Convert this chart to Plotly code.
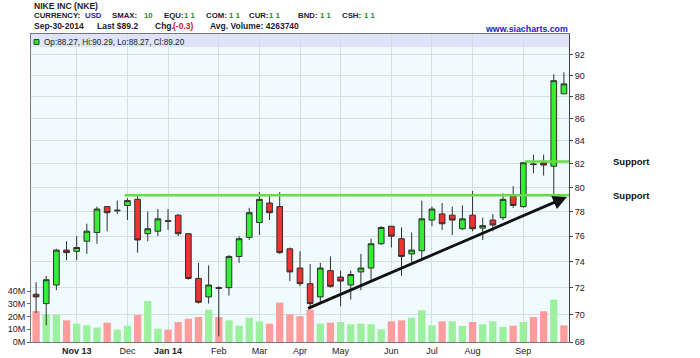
import math
import pandas as pd
import plotly.graph_objects as go

# ---------------- data ----------------
weeks = pd.date_range("2013-09-30", periods=53, freq="7D")

open_ = [71.5, 70.8, 72.2, 74.9, 74.8, 75.6, 76.3, 78.4, 78.05, 78.5,
         79.0, 76.2, 76.4, 77.25, 77.7, 76.2, 72.7, 71.3, 72.0, 72.0,
         74.4, 75.9, 77.1, 78.7, 78.4, 75.0, 73.5, 72.3, 71.3, 73.3,
         72.8, 72.2, 73.2, 73.5, 75.4, 76.8, 75.8, 74.6, 74.85, 77.3,
         77.8, 77.7, 76.6, 77.7, 76.65, 77.3, 77.5, 79.3, 78.4, 82.0,
         82.1, 81.8, 88.27]
high = [72.4, 72.9, 75.0, 75.6, 76.0, 77.0, 78.4, 78.4, 78.9, 79.1,
        79.4, 78.0, 78.2, 78.2, 77.8, 76.2, 73.9, 73.7, 72.1, 74.5,
        76.0, 78.3, 79.6, 79.3, 79.6, 75.1, 74.8, 73.8, 73.9, 74.4,
        73.3, 73.3, 74.6, 75.8, 76.8, 76.8, 76.7, 76.3, 78.9, 78.4,
        78.7, 78.4, 78.5, 79.7, 77.5, 77.8, 79.5, 80.1, 82.1, 82.8,
        82.8, 90.1, 90.29]
low = [70.1, 69.2, 71.8, 74.1, 74.1, 74.6, 75.4, 76.4, 77.8, 77.3,
       74.7, 75.6, 76.0, 76.5, 76.0, 72.6, 70.8, 70.8, 68.4, 71.4,
       73.9, 75.7, 76.1, 77.3, 74.6, 72.5, 72.1, 70.5, 70.9, 72.0,
       70.6, 71.1, 71.8, 72.6, 75.3, 75.1, 72.9, 73.9, 74.2, 76.8,
       76.5, 76.1, 76.5, 76.4, 75.7, 76.4, 77.3, 78.3, 78.3, 81.2,
       81.0, 79.4, 88.27]
close = [71.3, 72.6, 74.9, 74.7, 75.1, 76.4, 78.2, 77.9, 78.1, 78.9,
         75.7, 76.6, 77.4, 77.2, 76.2, 72.7, 70.9, 72.2, 71.95, 74.4,
         75.8, 77.9, 79.0, 77.9, 74.7, 73.2, 72.3, 70.8, 73.5, 72.1,
         72.5, 73.0, 73.5, 75.4, 76.7, 76.0, 74.4, 74.9, 77.4, 78.2,
         77.0, 77.3, 77.4, 76.6, 76.85, 76.9, 79.0, 78.5, 82.1, 81.95,
         81.9, 89.5, 89.20]
volume_m = [24.3, 21.7, 21.2, 17.0, 14.4, 13.1, 11.3, 15.2, 9.7, 12.8,
            21.2, 32.2, 10.5, 9.7, 15.7, 18.3, 19.6, 25.4, 19.6, 17.0,
            12.8, 19.1, 16.2, 14.4, 30.9, 21.7, 20.2, 25.4, 14.4, 15.2,
            15.7, 13.9, 14.4, 13.9, 10.0, 16.2, 17.0, 19.1, 24.9, 13.1,
            16.2, 16.2, 12.6, 15.7, 13.9, 16.2, 11.8, 12.8, 15.7, 19.6,
            24.1, 33.2, 13.1]

month_tick_weeks = ["2013-10-28", "2013-12-02", "2013-12-30", "2014-02-03",
                    "2014-03-03", "2014-03-31", "2014-04-28", "2014-06-02",
                    "2014-06-30", "2014-07-28", "2014-09-01"]
month_tick_labels = ["<b>Nov 13</b>", "Dec", "<b>Jan 14</b>", "Feb", "Mar",
                     "Apr", "May", "Jun", "Jul", "Aug", "Sep"]
price_ticks = [68, 70, 72, 74, 76, 78, 80, 82, 84, 86, 88, 90, 92]
volume_ticks_m = [0, 10, 20, 30, 40]

support_levels = [79.35, 82.2]
support_starts = ["2013-11-30", "2014-09-02"]
support_end = "2014-10-03"
trend_start = ("2014-04-04 12:00", 70.4)
trend_end = ("2014-10-01 02:00", 79.2)

# ---------------- layout helpers ----------------
W, H = 700, 358
L, R, T, B = 31, 569, 34, 342


def px(x):
    return (x - L) / (R - L)


def py(y):
    return (B - y) / (B - T)


GREEN_BODY = "#33ee33"
RED_BODY = "#ee3333"
GREEN_VOL = "#9df09d"
RED_VOL = "#ff9c9c"
GRID = "#d5dee3"
TXT = "#1b1b2b"
FONT = "Liberation Sans, Arial, sans-serif"

vol_colors = []
for i, c in enumerate(close):
    prev = close[i - 1] if i > 0 else open_[0]
    vol_colors.append(GREEN_VOL if c >= prev else RED_VOL)

fig = go.Figure()
fig.add_trace(go.Bar(
    x=weeks, y=[v * 1e6 for v in volume_m], yaxis="y",
    marker=dict(color=vol_colors, line=dict(width=0)), hoverinfo="skip"))

fig.add_trace(go.Candlestick(
    x=weeks, open=open_, high=high, low=low, close=close, yaxis="y2",
    whiskerwidth=0,
    increasing=dict(fillcolor=GREEN_BODY, line=dict(color="#2d332d", width=1)),
    decreasing=dict(fillcolor=RED_BODY, line=dict(color="#332d2d", width=1))))

for lvl, start in zip(support_levels, support_starts):
    fig.add_trace(go.Scatter(
        x=[start, support_end], y=[lvl, lvl], yaxis="y2", mode="lines",
        line=dict(color="#66dd44", width=2.5), hoverinfo="skip"))

half_week = pd.Timedelta(days=3.5)
fig.update_layout(
    width=W, height=H,
    margin=dict(l=L, r=W - R, t=T, b=H - B, pad=0, autoexpand=False),
    paper_bgcolor="white", plot_bgcolor="#f0fbff",
    showlegend=False, bargap=0.28, boxgap=0.2,
    font=dict(family=FONT, size=9, color=TXT),
    xaxis=dict(
        type="date", range=[weeks[0] - half_week, weeks[-1] + half_week],
        tickvals=month_tick_weeks, ticktext=month_tick_labels,
        showgrid=True, gridcolor=GRID, gridwidth=1, automargin=False,
        rangeslider=dict(visible=False), showline=True, linecolor="#777",
        mirror=True, ticks="", tickfont=dict(size=9, color="#222")),
    yaxis=dict(
        range=[0, (B - T) / 12.75 * 10e6], automargin=False,
        tickvals=[v * 1e6 for v in volume_ticks_m],
        ticktext=[f"{v}M" for v in volume_ticks_m],
        showgrid=False, zeroline=False, side="left",
        ticks="outside", ticklen=3, tickcolor="#666",
        showline=True, linecolor="#777", tickfont=dict(size=9, color="#222")),
    yaxis2=dict(
        type="log", range=[math.log10(68), math.log10(94)], automargin=False,
        overlaying="y", side="right",
        tickvals=price_ticks, ticktext=[str(v) for v in price_ticks],
        showgrid=True, gridcolor=GRID, gridwidth=1, zeroline=False,
        ticks="outside", ticklen=3, tickcolor="#444",
        showline=True, linecolor="#444", tickfont=dict(size=9, color="#222")),
)

# OHLC info band at top of the plot area
fig.add_shape(type="rect", xref="paper", yref="paper", x0=0, x1=1,
              y0=py(47), y1=1, fillcolor="#dfe3fa", line=dict(width=0),
              layer="below")
fig.add_shape(type="rect", xref="paper", yref="paper", x0=px(34), x1=px(39),
              y0=py(44.5), y1=py(39.5), fillcolor="#33dd33",
              line=dict(color="#225522", width=1))

ann = []


def txt(x, y, s, color=TXT, size=9, bold=True, anchor="left"):
    ann.append(dict(xref="paper", yref="paper", x=px(x), y=py(y),
                    text=f"<b>{s}</b>" if bold else s, showarrow=False,
                    xanchor=anchor, yanchor="middle",
                    font=dict(family=FONT, size=size, color=color)))


BLUE = "#2323c0"
GRN = "#2a8a2a"
txt(32, 5.5, "NIKE INC (NKE)", size=8.6)
row2 = [("CURRENCY:", 32, TXT), ("USD", 83, BLUE), ("SMAX:", 110, TXT),
        ("10", 142, GRN), ("EQU:", 162, TXT), ("1 1", 182, GRN),
        ("COM:", 204, TXT), ("1 1", 227, GRN), ("CUR:", 247, TXT),
        ("1 1", 267, GRN), ("BND:", 296, TXT), ("1 1", 318, GRN),
        ("CSH:", 340, TXT), ("1 1", 362, GRN)]
for s, x, c in row2:
    txt(x, 16, s, c, size=7.8)
row3 = [("Sep-30-2014", 32, TXT), ("Last $89.2", 95, TXT), ("Chg.", 153, TXT),
        ("(-0.3)", 171, "#cc2222"), ("Avg. Volume: 4263740", 208, TXT)]
for s, x, c in row3:
    txt(x, 26, s, c, size=8.5)
txt(570, 29, "www.siacharts.com", "#1a1acc", size=8.8, anchor="right")
txt(42, 42, f"Op:{open_[-1]:.2f}, Hi:{high[-1]:.2f}, Lo:{low[-1]:.2f}, Cl:{close[-1]:.2f}",
    "#222", size=8.2, bold=False)
for lvl, yy in zip(support_levels, [195.7, 161.7]):
    txt(611, yy, "Support", "#111", size=9.5)

# trend line with arrow
ann.append(dict(xref="x", yref="y2", axref="x", ayref="y2",
                x=trend_end[0], y=math.log10(trend_end[1]),
                ax=trend_start[0], ay=math.log10(trend_start[1]),
                text="", showarrow=True, arrowhead=2, arrowsize=1,
                arrowwidth=2.8, arrowcolor="#111", standoff=0))

fig.update_layout(annotations=ann)
fig.write_html("out.html")
